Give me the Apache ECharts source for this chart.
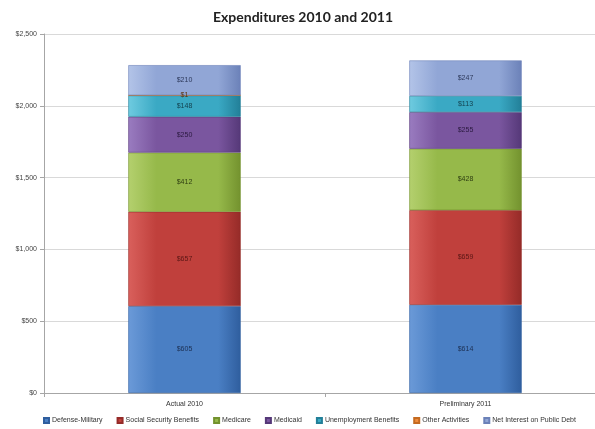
<!DOCTYPE html>
<html>
<head>
<meta charset="utf-8">
<script src="https://cdn.jsdelivr.net/npm/echarts@6/dist/echarts.min.js"></script>
<style>
  html, body { margin: 0; padding: 0; background: #ffffff; overflow: hidden; }
  #chart { width: 606px; height: 429px; }
</style>
</head>
<body>
<div id="chart"></div>
<script>
// Spending categories (x axis)
const categories = ['Actual 2010', 'Preliminary 2011'];

// Stacked components, in billions of dollars, bottom to top
const defenseMilitary = [605, 614];
const socialSecurity = [657, 659];
const medicare = [412, 428];
const medicaid = [250, 255];
const unemployment = [148, 113];
const otherActivities = [1, 0];
const netInterest = [210, 247];

const seriesNames = [
  'Defense-Military',
  'Social Security Benefits',
  'Medicare',
  'Medicaid',
  'Unemployment Benefits',
  'Other Activities',
  'Net Interest on Public Debt'
];
const seriesData = [defenseMilitary, socialSecurity, medicare, medicaid, unemployment, otherActivities, netInterest];

// fill: [light edge, base, dark edge], label colour
const palette = [
  ['#6b9ad8', '#4a7fc4', '#2f5e9e', '#1c2f52'],
  ['#d9605c', '#c0403c', '#952b28', '#5a1715'],
  ['#b4d06e', '#96b94a', '#73922e', '#2f3f12'],
  ['#9a7cc0', '#7a569f', '#553878', '#2b1a40'],
  ['#6fcbe0', '#3aa9c4', '#227f98', '#123f4c'],
  ['#f7ad6a', '#f08c3c', '#c46a20', '#5a300c'],
  ['#b3c4e8', '#91a6d6', '#6b81b8', '#2e3a5c']
];

function fill(p) {
  return new echarts.graphic.LinearGradient(0, 0, 1, 0, [
    { offset: 0, color: p[0] },
    { offset: 0.25, color: p[1] },
    { offset: 0.8, color: p[1] },
    { offset: 1, color: p[2] }
  ]);
}

const series = seriesNames.map((name, i) => ({
  name: name,
  type: 'bar',
  stack: 'total',
  barWidth: '40%',
  data: seriesData[i].map(v => ({
    value: v,
    itemStyle: { borderWidth: v > 0 ? 0.6 : 0 }
  })),
  itemStyle: { color: fill(palette[i]), borderColor: palette[i][2], borderWidth: 0.6 },
  label: {
    show: true,
    position: 'inside',
    fontSize: 7,
    fontFamily: 'Liberation Sans, Arial, sans-serif',
    color: palette[i][3],
    formatter: (p) => (p.value > 0 ? '$' + p.value : '')
  }
}));

const chart = echarts.init(document.getElementById('chart'), null, { renderer: 'canvas' });
chart.setOption({
  animation: false,
  backgroundColor: '#ffffff',
  color: palette.map(p => p[1]),
  title: {
    text: 'Expenditures 2010 and 2011',
    left: 'center',
    top: 5,
    textStyle: { fontFamily: 'Lato, sans-serif', fontWeight: 'bold', fontSize: 14, color: '#222' }
  },
  grid: { left: 44, right: 0, top: 34, bottom: 36, containLabel: false },
  legend: {
    bottom: 0,
    left: 38,
    itemWidth: 5,
    itemHeight: 5,
    itemGap: 14,
    icon: 'rect',
    textStyle: { fontSize: 7, color: '#333', fontFamily: 'Liberation Sans, Arial, sans-serif', padding: [0, 0, 0, -2] },
    data: seriesNames
  },
  xAxis: {
    type: 'category',
    data: categories,
    axisLine: { lineStyle: { color: '#a6a6a6' } },
    axisTick: { show: true, lineStyle: { color: '#a6a6a6' }, length: 4 },
    axisLabel: { fontSize: 7, color: '#333', margin: 8, fontFamily: 'Liberation Sans, Arial, sans-serif' }
  },
  yAxis: {
    type: 'value',
    min: 0,
    max: 2500,
    interval: 500,
    axisLine: { show: true, lineStyle: { color: '#a6a6a6' } },
    axisTick: { show: true, lineStyle: { color: '#a6a6a6' }, length: 4 },
    splitLine: { lineStyle: { color: '#d9d9d9' } },
    axisLabel: {
      fontSize: 7,
      color: '#444',
      margin: 7,
      fontFamily: 'Liberation Sans, Arial, sans-serif',
      formatter: (v) => '$' + v.toLocaleString('en-US')
    }
  },
  series: series
});
</script>
</body>
</html>
